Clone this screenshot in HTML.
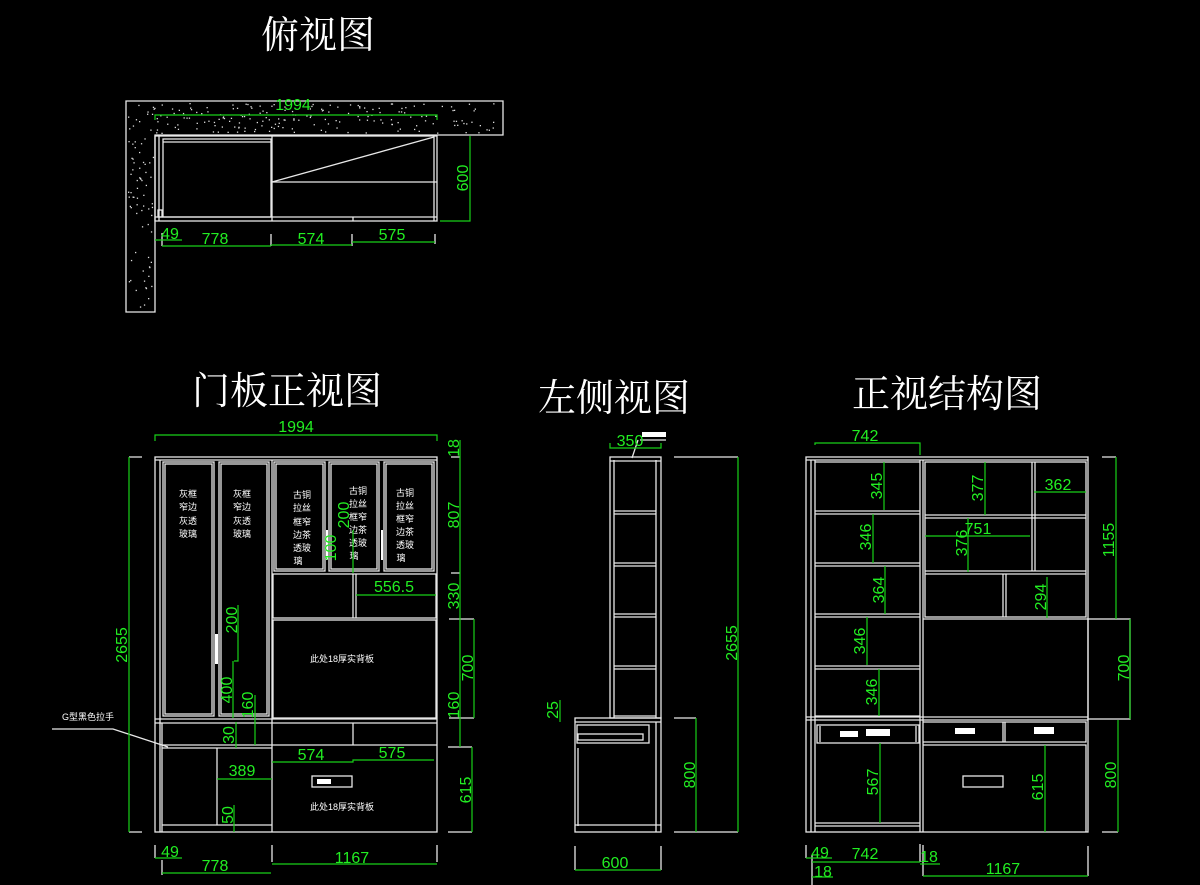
<!DOCTYPE html>
<html><head><meta charset="utf-8">
<style>
html,body{margin:0;padding:0;background:#000;}
svg{display:block}
.w{stroke:#e8e8e8;stroke-width:1.3;fill:none}
.g{stroke:#18d018;stroke-width:1.2;fill:none}
.d{fill:#22ee22;font-family:"Liberation Sans Narrow","Liberation Sans",sans-serif;font-size:16px}
.t{fill:#fff;font-family:"Liberation Serif","Noto Serif CJK SC",serif;font-size:38px}
.c{fill:#fff;font-family:"Liberation Sans","Noto Sans CJK SC",sans-serif;font-size:9px}
</style></head><body>
<svg width="1200" height="885" viewBox="0 0 1200 885" xmlns="http://www.w3.org/2000/svg">
<rect width="1200" height="885" fill="#000"/>
<!-- titles -->
<text class="t" x="318" y="48" text-anchor="middle">俯视图</text>
<text class="t" x="287" y="404" text-anchor="middle">门板正视图</text>
<text class="t" x="614" y="411" text-anchor="middle">左侧视图</text>
<text class="t" x="947" y="407" text-anchor="middle">正视结构图</text>

<!-- ===== top view ===== -->
<path class="w" d="M126 101H503V135H155V312H126Z"/>
<g id="dots" fill="#ddd"></g>
<rect class="w" x="155" y="136" width="282" height="85"/>
<rect class="w" x="163" y="139" width="108" height="78"/>
<line class="w" x1="159" y1="136" x2="159" y2="221"/>
<line class="w" x1="163" y1="142" x2="271" y2="142"/>
<line class="w" x1="272" y1="136" x2="272" y2="221"/>
<line class="w" x1="272" y1="182" x2="434" y2="137"/>
<line class="w" x1="272" y1="182" x2="437" y2="182"/>
<line class="w" x1="155" y1="217" x2="437" y2="217"/>
<line class="w" x1="434" y1="136" x2="434" y2="221"/>
<line class="w" x1="353" y1="217" x2="353" y2="221"/>
<rect class="w" x="158" y="210" width="4" height="7"/>
<path class="g" d="M155 120V115H437V120"/>
<text class="d" x="293" y="110" text-anchor="middle">1994</text>
<path class="g" d="M440 221H470V136"/>
<text class="d" transform="translate(468,178) rotate(-90)" text-anchor="middle">600</text>
<path class="w" d="M162 233V246M271 234V246M352 234V246M435 234V244"/>
<line class="g" x1="155" y1="240" x2="182" y2="240"/>
<line class="g" x1="162" y1="246" x2="271" y2="246"/>
<line class="g" x1="271" y1="245" x2="352" y2="245"/>
<line class="g" x1="352" y1="242" x2="435" y2="242"/>
<text class="d" x="170" y="239" text-anchor="middle">49</text>
<text class="d" x="215" y="244" text-anchor="middle">778</text>
<text class="d" x="311" y="244" text-anchor="middle">574</text>
<text class="d" x="392" y="240" text-anchor="middle">575</text>

<!-- ===== door front view ===== -->
<rect class="w" x="155" y="457" width="282" height="375"/>
<line class="w" x1="155" y1="460" x2="437" y2="460"/>
<line class="w" x1="160" y1="460" x2="160" y2="832"/>
<rect class="w" x="163" y="462" width="51" height="254"/>
<rect class="w" x="165" y="464" width="47" height="250"/>
<rect class="w" x="219" y="462" width="50" height="254"/>
<rect class="w" x="221" y="464" width="46" height="250"/>
<rect class="w" x="274" y="462" width="51" height="109"/>
<rect class="w" x="276" y="464" width="47" height="105"/>
<rect class="w" x="329" y="462" width="50" height="109"/>
<rect class="w" x="331" y="464" width="46" height="105"/>
<rect class="w" x="384" y="462" width="50" height="109"/>
<rect class="w" x="386" y="464" width="46" height="105"/>
<rect fill="#fff" x="215" y="634" width="3" height="30"/>
<rect fill="#fff" x="326" y="530" width="2" height="30"/>
<rect fill="#fff" x="381" y="530" width="2" height="30"/>
<line class="w" x1="272" y1="460" x2="272" y2="832"/>
<rect class="w" x="273" y="574" width="163" height="44"/>
<line class="w" x1="353" y1="574" x2="353" y2="618"/>
<line class="w" x1="356" y1="574" x2="356" y2="618"/>
<rect class="w" x="273" y="620" width="163" height="98"/>
<line class="w" x1="155" y1="719" x2="437" y2="719"/>
<line class="w" x1="155" y1="723" x2="437" y2="723"/>
<line class="w" x1="353" y1="723" x2="353" y2="745"/>
<line class="w" x1="162" y1="745" x2="437" y2="745"/>
<line class="w" x1="162" y1="748" x2="272" y2="748"/>
<line class="w" x1="162" y1="723" x2="162" y2="832"/>
<line class="w" x1="217" y1="748" x2="217" y2="825"/>
<line class="w" x1="162" y1="825" x2="272" y2="825"/>
<rect class="w" x="312" y="776" width="40" height="11"/>
<rect fill="#fff" x="317" y="779" width="14" height="5"/>
<g class="c" text-anchor="middle">
<text x="188" y="497">灰框</text><text x="188" y="510">窄边</text><text x="188" y="524">灰透</text><text x="188" y="537">玻璃</text>
<text x="242" y="497">灰框</text><text x="242" y="510">窄边</text><text x="242" y="524">灰透</text><text x="242" y="537">玻璃</text>
<text x="302" y="498">古铜</text><text x="302" y="511">拉丝</text><text x="302" y="525">框窄</text><text x="302" y="538">边茶</text><text x="302" y="551">透玻</text><text x="298" y="564">璃</text>
<text x="358" y="494">古铜</text><text x="358" y="507">拉丝</text><text x="358" y="520">框窄</text><text x="358" y="533">边茶</text><text x="358" y="546">透玻</text><text x="354" y="559">璃</text>
<text x="405" y="496">古铜</text><text x="405" y="509">拉丝</text><text x="405" y="522">框窄</text><text x="405" y="535">边茶</text><text x="405" y="548">透玻</text><text x="401" y="561">璃</text>
<text x="342" y="662">此处18厚实背板</text>
<text x="342" y="810">此处18厚实背板</text>
<text x="88" y="720">G型黑色拉手</text>
</g>
<path class="w" d="M52 729H113L168 747"/>
<!-- dims door -->
<path class="g" d="M155 441V435H437V441"/>
<text class="d" x="296" y="432" text-anchor="middle">1994</text>
<path class="w" d="M129 457H142M129 832H142"/>
<line class="g" x1="129" y1="457" x2="129" y2="832"/>
<text class="d" transform="translate(127,645) rotate(-90)" text-anchor="middle">2655</text>
<path class="w" d="M451 457H460M451 573H460M449 619H474M449 718H474M448 747H472M448 832H472"/>
<line class="g" x1="460" y1="440" x2="460" y2="747"/>
<line class="g" x1="474" y1="619" x2="474" y2="718"/>
<line class="g" x1="472" y1="747" x2="472" y2="832"/>
<text class="d" transform="translate(459,448) rotate(-90)" text-anchor="middle">18</text>
<text class="d" transform="translate(459,515) rotate(-90)" text-anchor="middle">807</text>
<text class="d" transform="translate(459,596) rotate(-90)" text-anchor="middle">330</text>
<text class="d" transform="translate(473,668) rotate(-90)" text-anchor="middle">700</text>
<text class="d" transform="translate(459,705) rotate(-90)" text-anchor="middle">160</text>
<text class="d" transform="translate(471,790) rotate(-90)" text-anchor="middle">615</text>
<line class="g" x1="356" y1="595" x2="436" y2="595"/>
<text class="d" x="394" y="592" text-anchor="middle">556.5</text>
<line class="g" x1="353" y1="530" x2="353" y2="573"/>
<text class="d" transform="translate(349,515) rotate(-90)" text-anchor="middle">200</text>
<text class="d" transform="translate(336,548) rotate(-90)" text-anchor="middle">100</text>
<path class="g" d="M238 605V661H234M233 661V718"/>
<text class="d" transform="translate(237,620) rotate(-90)" text-anchor="middle">200</text>
<text class="d" transform="translate(232,690) rotate(-90)" text-anchor="middle">400</text>
<line class="g" x1="255" y1="695" x2="255" y2="745"/>
<text class="d" transform="translate(253,705) rotate(-90)" text-anchor="middle">160</text>
<line class="g" x1="236" y1="722" x2="236" y2="748"/>
<text class="d" transform="translate(234,735) rotate(-90)" text-anchor="middle">30</text>
<line class="g" x1="217" y1="779" x2="272" y2="779"/>
<text class="d" x="242" y="776" text-anchor="middle">389</text>
<line class="g" x1="234" y1="805" x2="234" y2="832"/>
<text class="d" transform="translate(233,815) rotate(-90)" text-anchor="middle">50</text>
<path class="g" d="M272 762H353V760H434"/>
<text class="d" x="311" y="760" text-anchor="middle">574</text>
<text class="d" x="392" y="758" text-anchor="middle">575</text>
<path class="w" d="M155 845V858M272 845V862M437 845V862M162 860V875"/>
<line class="g" x1="155" y1="858" x2="182" y2="858"/>
<line class="g" x1="162" y1="873" x2="271" y2="873"/>
<line class="g" x1="272" y1="864" x2="437" y2="864"/>
<text class="d" x="170" y="857" text-anchor="middle">49</text>
<text class="d" x="215" y="871" text-anchor="middle">778</text>
<text class="d" x="352" y="863" text-anchor="middle">1167</text>

<!-- ===== side view ===== -->
<rect class="w" x="610" y="457" width="51" height="261"/>
<line class="w" x1="614" y1="460" x2="614" y2="718"/>
<line class="w" x1="656" y1="460" x2="656" y2="718"/>
<line class="w" x1="610" y1="461" x2="661" y2="461"/>
<path class="w" d="M614 511H656M614 514H656M614 563H656M614 566H656M614 614H656M614 617H656M614 666H656M614 669H656M614 716H656"/>
<rect class="w" x="575" y="718" width="86" height="114"/>
<line class="w" x1="575" y1="722" x2="661" y2="722"/>
<rect class="w" x="577" y="725" width="72" height="18"/>
<rect class="w" x="578" y="734" width="65" height="6"/>
<line class="w" x1="578" y1="748" x2="578" y2="826"/>
<line class="w" x1="656" y1="722" x2="656" y2="832"/>
<line class="w" x1="575" y1="825" x2="661" y2="825"/>
<rect fill="#fff" x="642" y="432" width="24" height="5"/>
<path class="w" d="M640 440H666M638 440L632 458"/>
<path class="g" d="M610 443V448H661V443"/>
<text class="d" x="630" y="446" text-anchor="middle">350</text>
<path class="w" d="M674 457H738M674 832H738M674 718H696"/>
<line class="g" x1="738" y1="457" x2="738" y2="832"/>
<line class="g" x1="696" y1="718" x2="696" y2="832"/>
<text class="d" transform="translate(737,643) rotate(-90)" text-anchor="middle">2655</text>
<text class="d" transform="translate(695,775) rotate(-90)" text-anchor="middle">800</text>
<line class="g" x1="560" y1="700" x2="560" y2="722"/>
<text class="d" transform="translate(558,710) rotate(-90)" text-anchor="middle">25</text>
<path class="w" d="M575 846V870M661 846V870"/>
<line class="g" x1="575" y1="870" x2="661" y2="870"/>
<text class="d" x="615" y="868" text-anchor="middle">600</text>

<!-- ===== structure view ===== -->
<rect class="w" x="806" y="457" width="282" height="375"/>
<line class="w" x1="806" y1="460" x2="1088" y2="460"/>
<line class="w" x1="811" y1="460" x2="811" y2="832"/>
<line class="w" x1="815" y1="460" x2="815" y2="832"/>
<line class="w" x1="920" y1="460" x2="920" y2="832"/>
<line class="w" x1="923" y1="460" x2="923" y2="832"/>
<path class="w" d="M815 462H920M815 511H920M815 514H920M815 563H920M815 566H920M815 614H920M815 617H920M815 666H920M815 669H920M815 716H920"/>
<rect class="w" x="925" y="462" width="161" height="155"/>
<path class="w" d="M925 515H1086M925 518H1086M925 571H1086M925 574H1086M1032 462V571M1035 462V571M1003 574V617M1006 574V617"/>
<line class="w" x1="923" y1="619" x2="1088" y2="619"/>
<rect class="w" x="1088" y="619" width="42" height="100"/>
<line class="w" x1="806" y1="717" x2="1088" y2="717"/>
<line class="w" x1="806" y1="720" x2="1088" y2="720"/>
<rect class="w" x="817" y="725" width="102" height="18"/>
<path class="w" d="M820 726V742M916 726V742"/>
<rect fill="#fff" x="840" y="731" width="18" height="6"/>
<rect fill="#fff" x="866" y="729" width="24" height="7"/>
<path class="w" d="M923 722H1086V742H923M1003 722V742M1005 722V742M923 745H1086V832M815 823H920M815 826H920"/>
<rect fill="#fff" x="955" y="728" width="20" height="6"/>
<rect fill="#fff" x="1034" y="727" width="20" height="7"/>
<rect class="w" x="963" y="776" width="40" height="11"/>
<path class="g" d="M815 445V443H920V455"/>
<text class="d" x="865" y="441" text-anchor="middle">742</text>
<path class="w" d="M1102 457H1116M1102 832H1118"/>
<line class="g" x1="1116" y1="457" x2="1116" y2="619"/>
<line class="g" x1="1130" y1="619" x2="1130" y2="719"/>
<line class="g" x1="1118" y1="720" x2="1118" y2="832"/>
<text class="d" transform="translate(1114,540) rotate(-90)" text-anchor="middle">1155</text>
<text class="d" transform="translate(1129,668) rotate(-90)" text-anchor="middle">700</text>
<text class="d" transform="translate(1116,775) rotate(-90)" text-anchor="middle">800</text>
<path class="g" d="M884 462V510M873 514V563M885 566V614M867 617V665M879 669V716M880 743V823M1045 745V832M985 462V515M968 518V572M1047 577V618M1034 492H1086M925 536H1030"/>
<text class="d" transform="translate(882,486) rotate(-90)" text-anchor="middle">345</text>
<text class="d" transform="translate(871,537) rotate(-90)" text-anchor="middle">346</text>
<text class="d" transform="translate(884,590) rotate(-90)" text-anchor="middle">364</text>
<text class="d" transform="translate(865,641) rotate(-90)" text-anchor="middle">346</text>
<text class="d" transform="translate(877,692) rotate(-90)" text-anchor="middle">346</text>
<text class="d" transform="translate(878,782) rotate(-90)" text-anchor="middle">567</text>
<text class="d" transform="translate(1043,787) rotate(-90)" text-anchor="middle">615</text>
<text class="d" transform="translate(983,488) rotate(-90)" text-anchor="middle">377</text>
<text class="d" transform="translate(967,543) rotate(-90)" text-anchor="middle">376</text>
<text class="d" transform="translate(1046,597) rotate(-90)" text-anchor="middle">294</text>
<text class="d" x="1058" y="490" text-anchor="middle">362</text>
<text class="d" x="978" y="534" text-anchor="middle">751</text>
<path class="w" d="M806 845V858M920 844V862M923 845V876M1088 846V876M812 855V885"/>
<line class="g" x1="806" y1="858" x2="832" y2="858"/>
<line class="g" x1="812" y1="862" x2="920" y2="862"/>
<line class="g" x1="920" y1="864" x2="940" y2="864"/>
<line class="g" x1="812" y1="877" x2="833" y2="877"/>
<line class="g" x1="923" y1="876" x2="1088" y2="876"/>
<text class="d" x="820" y="858" text-anchor="middle">49</text>
<text class="d" x="865" y="859" text-anchor="middle">742</text>
<text class="d" x="929" y="862" text-anchor="middle">18</text>
<text class="d" x="823" y="877" text-anchor="middle">18</text>
<text class="d" x="1003" y="874" text-anchor="middle">1167</text>
</svg>
<script>
(function(){var g=document.getElementById('dots');var s=7;function r(){s=(s*9301+49297)%233280;return s/233280;}
var h='';for(var i=0;i<260;i++){var x,y;if(r()<0.75){x=128+r()*373;y=103+r()*30;}else{x=128+r()*25;y=137+r()*173;}
h+='<rect x="'+x.toFixed(1)+'" y="'+y.toFixed(1)+'" width="1.3" height="1.3"/>';}
g.innerHTML=h;})();
</script>
</body></html>
